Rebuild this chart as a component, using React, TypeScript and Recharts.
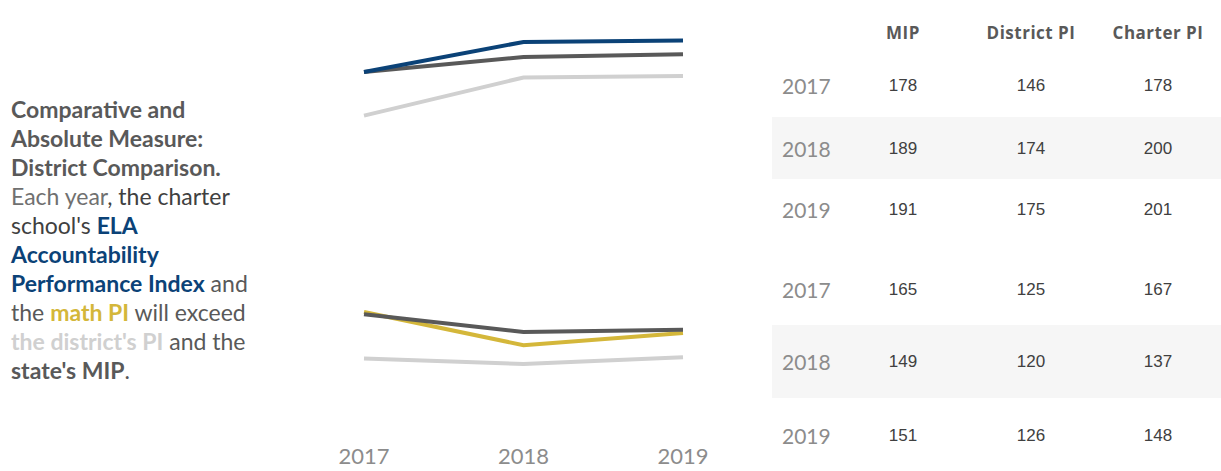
import React from "react";
import { LineChart, Line, XAxis, YAxis } from "recharts";

const years = ["2017", "2018", "2019"];
const elaMIP = [178, 189, 191];
const elaDistrict = [146, 174, 175];
const elaCharter = [178, 200, 201];
const mathMIP = [165, 149, 151];
const mathDistrict = [125, 120, 126];
const mathCharter = [167, 137, 148];
const columns = ["MIP", "District PI", "Charter PI"];

const elaData = years.map((y, i) => ({ year: y, mip: elaMIP[i], district: elaDistrict[i], charter: elaCharter[i] }));
const mathData = years.map((y, i) => ({ year: y, mip: mathMIP[i], district: mathDistrict[i], charter: mathCharter[i] }));

const BLUE = "#0b4277";
const GOLD = "#d4b73a";
const DARK = "#595959";
const LIGHT = "#d0d0d0";

const colX = [903, 1031, 1158];

function Table({ rowsY, values, bandTop, bandH }: { rowsY: number[]; values: number[][]; bandTop: number; bandH: number }) {
  return (
    <>
      <div style={{ position: "absolute", left: 772, top: bandTop, width: 449, height: bandH, background: "#f6f6f6" }} />
      {years.map((y, i) => (
        <React.Fragment key={y}>
          <div style={{ position: "absolute", left: 782, top: rowsY[i] - 14, fontFamily: "Lato", fontSize: 21, color: "#8c8c8c", lineHeight: "28px" }}>{y}</div>
          {values.map((col, c) => (
            <div key={c} style={{ position: "absolute", left: colX[c] - 40, width: 80, textAlign: "center", top: rowsY[i] - 11, fontFamily: "'Liberation Sans', Arial", fontSize: 17, color: "#404040", lineHeight: "22px" }}>{col[i]}</div>
          ))}
        </React.Fragment>
      ))}
    </>
  );
}

export default function App() {
  const chartLeft = 324;
  const chartW = 399;
  return (
    <div style={{ position: "absolute", left: 0, top: 0, width: 1221, height: 471, background: "#fff", overflow: "hidden" }}>
      <div style={{ position: "absolute", left: 11, top: 95, width: 280, whiteSpace: "nowrap", fontFamily: "Lato", fontSize: 23, lineHeight: "29px", color: "#595959" }}>
        <b>Comparative and</b>
        <br />
        <b>Absolute Measure:</b>
        <br />
        <b>District Comparison.</b>
        <br />
        <span style={{ color: "#707070" }}>Each year</span>
        <span style={{ color: "#404040" }}>, the charter</span>
        <br />
        <span style={{ color: "#404040" }}>school's </span>
        <b style={{ color: BLUE }}>ELA</b>
        <br />
        <b style={{ color: BLUE }}>Accountability</b>
        <br />
        <b style={{ color: BLUE }}>Performance Index</b> and
        <br />
        the <b style={{ color: GOLD }}>math PI</b> will exceed
        <br />
        <b style={{ color: LIGHT }}>the district's PI</b> and the
        <br />
        <b>state's MIP</b>.
      </div>

      <div style={{ position: "absolute", left: chartLeft, top: 0 }}>
        <LineChart width={chartW} height={200} data={elaData} margin={{ top: 14.7, right: 40, left: 40, bottom: 21.6 }}>
          <XAxis dataKey="year" hide padding={{ left: 0, right: 0 }} />
          <YAxis hide domain={[100, 220]} />
          <Line dataKey="district" stroke={LIGHT} strokeWidth={4} dot={false} isAnimationActive={false} />
          <Line dataKey="mip" stroke={DARK} strokeWidth={4} dot={false} isAnimationActive={false} />
          <Line dataKey="charter" stroke={BLUE} strokeWidth={4} dot={false} isAnimationActive={false} />
        </LineChart>
      </div>

      <div style={{ position: "absolute", left: chartLeft, top: 270 }}>
        <LineChart width={chartW} height={201} data={mathData} margin={{ top: 27.6, right: 40, left: 40, bottom: 0 }}>
          <XAxis
            dataKey="year"
            axisLine={false}
            tickLine={false}
            padding={{ left: 0, right: 0 }}
            height={40.6}
            tick={{ fontSize: 22, fill: "#8c8c8c", fontFamily: "Lato" }}
            tickMargin={12}
            interval={0}
          />
          <YAxis hide domain={[60, 180]} />
          <Line dataKey="district" stroke={LIGHT} strokeWidth={4} dot={false} isAnimationActive={false} />
          <Line dataKey="charter" stroke={GOLD} strokeWidth={4} dot={false} isAnimationActive={false} />
          <Line dataKey="mip" stroke={DARK} strokeWidth={4} dot={false} isAnimationActive={false} />
        </LineChart>
      </div>

      {columns.map((c, i) => (
        <div key={c} style={{ position: "absolute", left: colX[i] - 70, width: 140, textAlign: "center", top: 21, fontFamily: "'Open Sans'", fontWeight: 700, fontSize: 17, letterSpacing: 0.5, color: "#595959", lineHeight: "24px" }}>{c}</div>
      ))}
      <Table rowsY={[86, 149, 210]} values={[elaMIP, elaDistrict, elaCharter]} bandTop={117} bandH={62} />
      <Table rowsY={[290, 362, 436]} values={[mathMIP, mathDistrict, mathCharter]} bandTop={325} bandH={73} />
    </div>
  );
}
